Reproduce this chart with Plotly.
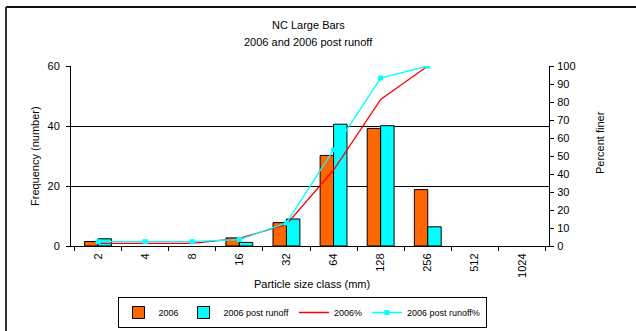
import plotly.graph_objects as go

categories = ["2", "4", "8", "16", "32", "64", "128", "256", "512", "1024"]
freq_2006 = [1.5, None, None, 2.7, 7.8, 30.2, 39.2, 18.8, None, None]
freq_post = [2.4, None, None, 1.2, 9.0, 40.6, 40.1, 6.4, None, None]
pct_2006 = [1.5, 1.5, 1.5, 4.2, 12.0, 42.2, 81.4, 100, None, None]
pct_post = [2.4, 2.4, 2.4, 3.6, 12.8, 53.4, 93.3, 100, None, None]

FONT = "Liberation Sans, Arial, sans-serif"
L, R, T, B = 71, 87, 66, 85
W, H = 636, 331
PW, PH = W - L - R, H - T - B

def px(x):
    return (x - L) / PW

def py(y):
    return (H - B - y) / PH

fig = go.Figure()
fig.add_trace(go.Bar(x=categories, y=freq_2006, name="2006",
                     marker=dict(color="#FF6600", line=dict(color="black", width=1))))
fig.add_trace(go.Bar(x=categories, y=freq_post, name="2006 post runoff",
                     marker=dict(color="#00FFFF", line=dict(color="black", width=1))))
fig.add_trace(go.Scatter(x=categories, y=pct_2006, name="2006%", yaxis="y2",
                         mode="lines", line=dict(color="#FF0000", width=1.3)))
fig.add_trace(go.Scatter(x=categories, y=pct_post, name="2006 post runoff%", yaxis="y2",
                         mode="lines+markers", line=dict(color="#00FFFF", width=1.3),
                         marker=dict(symbol="square", size=5, color="#00FFFF")))

fig.update_layout(
    width=W, height=H,
    margin=dict(l=L, r=R, t=T, b=B, autoexpand=False),
    paper_bgcolor="white", plot_bgcolor="white",
    font=dict(family=FONT, size=11, color="black"),
    barmode="group", bargap=0.43, bargroupgap=0,
    showlegend=True,
    legend=dict(orientation="h", x=px(302), xanchor="center", y=py(297), yanchor="top",
                bordercolor="black", borderwidth=1, font=dict(size=9),
                itemwidth=30, tracegroupgap=0, traceorder="normal"),
    xaxis=dict(type="category", tickson="boundaries", ticks="outside", ticklen=4,
               tickcolor="black", showline=True, linecolor="black", linewidth=1,
               tickangle=-90, showgrid=False, tickfont=dict(size=11), ticklabelstandoff=2),
    yaxis=dict(range=[0, 60], dtick=20, ticks="outside", ticklen=4, tickcolor="black",
               showline=True, linecolor="black", linewidth=1, showgrid=True,
               gridcolor="black", gridwidth=1, zeroline=False, tickfont=dict(size=11),
               ticklabelstandoff=4),
    yaxis2=dict(range=[0, 100], dtick=10, overlaying="y", side="right", ticks="outside",
                ticklen=4, tickcolor="black", showline=True, linecolor="black", linewidth=1,
                showgrid=False, zeroline=False, tickfont=dict(size=11), ticklabelstandoff=1),
    annotations=[
        dict(text="NC Large Bars", xref="paper", yref="paper", x=px(308), y=py(25),
             showarrow=False, font=dict(size=11), xanchor="center", yanchor="middle"),
        dict(text="2006 and 2006 post runoff", xref="paper", yref="paper", x=px(308), y=py(42),
             showarrow=False, font=dict(size=11), xanchor="center", yanchor="middle"),
        dict(text="Frequency (number)", xref="paper", yref="paper", x=px(35), y=py(156),
             textangle=-90, showarrow=False, font=dict(size=11), xanchor="center", yanchor="middle"),
        dict(text="Percent finer", xref="paper", yref="paper", x=px(600), y=py(143),
             textangle=-90, showarrow=False, font=dict(size=11), xanchor="center", yanchor="middle"),
        dict(text="Particle size class (mm)", xref="paper", yref="paper", x=px(312), y=py(284),
             showarrow=False, font=dict(size=11), xanchor="center", yanchor="middle"),
    ],
    shapes=[
        dict(type="line", xref="paper", yref="paper", x0=px(6), x1=px(640), y0=py(7), y1=py(7),
             line=dict(color="#111111", width=2)),
        dict(type="line", xref="paper", yref="paper", x0=px(6), x1=px(6), y0=py(7), y1=py(340),
             line=dict(color="#333333", width=2)),
    ],
)

fig.write_html("out.html", config={"displayModeBar": False},
               post_script="document.body.style.margin='0px';document.body.style.overflow='hidden';")
